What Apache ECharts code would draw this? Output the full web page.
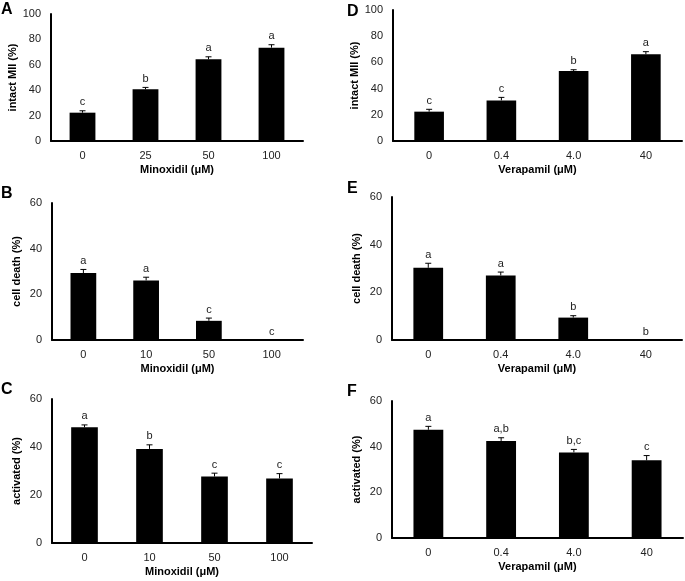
<!DOCTYPE html>
<html>
<head>
    <meta charset="utf-8" />
    <title>Minoxidil / Verapamil</title>
    <style>
        html, body { margin: 0; padding: 0; background: #fff; }
        #container { width: 685px; height: 581px; }
    </style>
</head>
<body>
    <div id="container"></div>
    <script src="https://cdn.jsdelivr.net/npm/echarts@6/dist/echarts.min.js"></script>
    <script type="text/javascript">
    // categories
    var minoxDoseA = ['0', '25', '50', '100'];
    var minoxDoseBC = ['0', '10', '50', '100'];
    var verapDose = ['0', '0.4', '4.0', '40'];

    // A: intact MII, minoxidil
    var valA = [22.3, 40.7, 64.3, 73.5];
    var errA = [1.5, 1.5, 2.0, 2.3];
    var letA = ['c', 'b', 'a', 'a'];
    // B: cell death, minoxidil
    var valB = [29.3, 26.1, 8.4, 0];
    var errB = [1.6, 1.4, 1.2, 0];
    var letB = ['a', 'a', 'c', 'c'];
    // C: activated, minoxidil
    var valC = [48.2, 39.2, 27.7, 26.9];
    var errC = [1.0, 1.7, 1.4, 2.0];
    var letC = ['a', 'b', 'c', 'c'];
    // D: intact MII, verapamil
    var valD = [22.4, 31.0, 53.4, 66.2];
    var errD = [1.8, 2.3, 1.0, 2.0];
    var letD = ['c', 'c', 'b', 'a'];
    // E: cell death, verapamil
    var valE = [30.3, 27.1, 9.4, 0];
    var errE = [1.9, 1.4, 0.8, 0];
    var letE = ['a', 'a', 'b', 'b'];
    // F: activated, verapamil
    var valF = [47.4, 42.5, 37.5, 34.0];
    var errF = [1.5, 1.4, 1.3, 2.1];
    var letF = ['a', 'a,b', 'b,c', 'c'];

    var font = 'Liberation Sans, Arial, sans-serif';

    var panels = [
        { tag: 'A', cats: minoxDoseA, val: valA, err: errA, let: letA, yName: 'intact MII (%)', xName: 'Minoxidil (\u03bcM)', max: 100,
          grid: { left: 51, top: 14, width: 252, height: 127 }, tagPos: [1, 2] },
        { tag: 'B', cats: minoxDoseBC, val: valB, err: errB, let: letB, yName: 'cell death (%)', xName: 'Minoxidil (\u03bcM)', max: 60,
          grid: { left: 52, top: 203, width: 251, height: 137 }, tagPos: [1, 186] },
        { tag: 'C', cats: minoxDoseBC, val: valC, err: errC, let: letC, yName: 'activated (%)', xName: 'Minoxidil (\u03bcM)', max: 60,
          grid: { left: 52, top: 399, width: 260, height: 144 }, tagPos: [1, 382] },
        { tag: 'D', cats: verapDose, val: valD, err: errD, let: letD, yName: 'intact MII (%)', xName: 'Verapamil (\u03bcM)', max: 100,
          grid: { left: 393, top: 10, width: 289, height: 131 }, tagPos: [347, 4] },
        { tag: 'E', cats: verapDose, val: valE, err: errE, let: letE, yName: 'cell death (%)', xName: 'Verapamil (\u03bcM)', max: 60,
          grid: { left: 392, top: 197, width: 290, height: 143 }, tagPos: [347, 181] },
        { tag: 'F', cats: verapDose, val: valF, err: errF, let: letF, yName: 'activated (%)', xName: 'Verapamil (\u03bcM)', max: 60,
          grid: { left: 392, top: 401, width: 291, height: 137 }, tagPos: [347, 384] }
    ];

    var grids = [], xAxes = [], yAxes = [], series = [], graphics = [];

    panels.forEach(function (p, i) {
        grids.push(p.grid);
        xAxes.push({
            type: 'category', gridIndex: i, data: p.cats,
            axisLine: { lineStyle: { color: '#000', width: 2 } },
            axisTick: { show: false },
            axisLabel: { color: '#222', fontSize: 11, fontFamily: font, margin: 9 },
            name: p.xName, nameLocation: 'middle', nameGap: 23,
            nameTextStyle: { color: '#000', fontSize: 11, fontWeight: 'bold', fontFamily: font }
        });
        yAxes.push({
            type: 'value', gridIndex: i, min: 0, max: p.max, interval: 20,
            axisLine: { show: true, lineStyle: { color: '#000', width: 2 } },
            axisTick: { show: false },
            splitLine: { show: false },
            axisLabel: { color: '#222', fontSize: 11, fontFamily: font, margin: 10 },
            name: p.yName, nameLocation: 'middle', nameGap: 30,
            nameTextStyle: { color: '#000', fontSize: 11, fontWeight: 'bold', fontFamily: font }
        });
        series.push({
            type: 'bar', xAxisIndex: i, yAxisIndex: i,
            data: p.val, barWidth: '41%',
            itemStyle: { color: '#000' },
            silent: true
        });
        var errData = p.val.map(function (v, k) { return [k, v, p.err[k]]; });
        series.push({
            type: 'custom', xAxisIndex: i, yAxisIndex: i,
            data: errData, silent: true, z: 5,
            renderItem: (function (letters) {
                return function (params, api) {
                    var x = api.value(0), v = api.value(1), e = api.value(2);
                    var base = api.coord([x, v]);
                    var top = api.coord([x, v + e]);
                    var children = [];
                    if (e > 0) {
                        children.push({ type: 'line', shape: { x1: base[0], y1: base[1], x2: top[0], y2: top[1] },
                            style: { stroke: '#000', lineWidth: 1 } });
                        children.push({ type: 'line', shape: { x1: top[0] - 3, y1: top[1], x2: top[0] + 3, y2: top[1] },
                            style: { stroke: '#000', lineWidth: 1 } });
                    }
                    children.push({ type: 'text', x: top[0], y: top[1] - 3,
                        style: { text: letters[params.dataIndex], fill: '#222', fontSize: 11, fontFamily: font,
                            align: 'center', verticalAlign: 'bottom' } });
                    return { type: 'group', children: children };
                };
            })(p.let)
        });
        graphics.push({
            type: 'text', left: p.tagPos[0], top: p.tagPos[1],
            style: { text: p.tag, fontSize: 16, fontWeight: 'bold', fontFamily: font, fill: '#000' }
        });
    });

    var myChart = echarts.init(document.getElementById('container'));
    myChart.setOption({
        animation: false,
        backgroundColor: '#fff',
        grid: grids,
        xAxis: xAxes,
        yAxis: yAxes,
        series: series,
        graphic: graphics
    });
    </script>
</body>
</html>
